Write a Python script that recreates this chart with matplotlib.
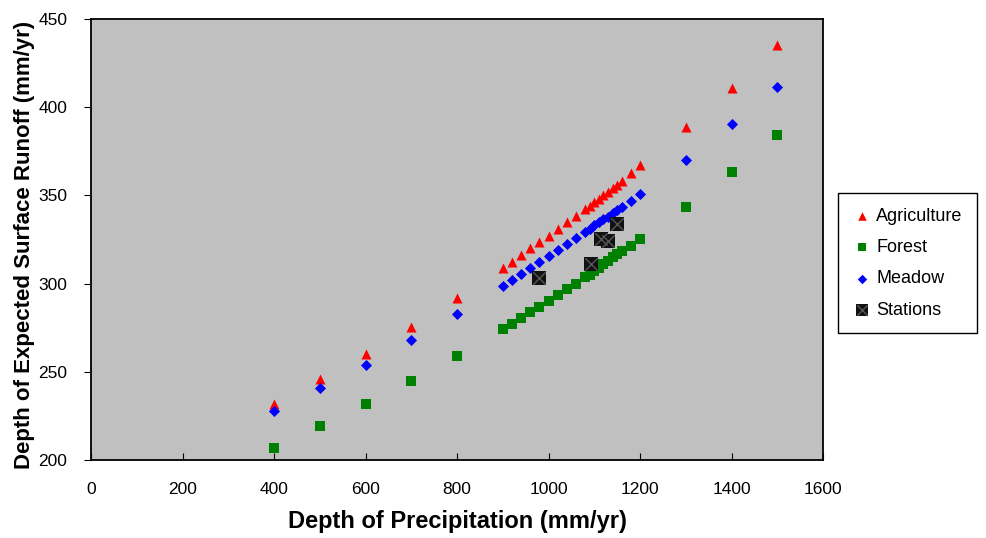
import numpy as np
import matplotlib.pyplot as plt

plt.rcParams['font.family'] = ['Liberation Sans', 'DejaVu Sans']

# precipitation depths (mm/yr)
precip = [400, 500, 600, 700, 800, 900, 920, 940, 960, 980, 1000, 1020, 1040, 1060,
          1080, 1090, 1100, 1110, 1120, 1130, 1140, 1150, 1160, 1180, 1200,
          1300, 1400, 1500]

# expected surface runoff (mm/yr)
agriculture = [232, 246, 260, 275.5, 292, 309, 312.5, 316, 320, 323.5, 327, 331, 335, 338.5,
               342.5, 344, 346, 348, 350, 352, 354, 356, 358, 362.5, 367,
               388.5, 411, 435.5]
forest = [207, 219, 231.5, 245, 259, 274, 277, 280.5, 284, 287, 290, 293.5, 297, 300,
          303.5, 305, 307, 309, 311, 313, 315, 316.5, 318.5, 321.5, 325,
          343.5, 363.5, 384.5]
meadow = [228, 241, 254, 268, 283, 298.5, 302, 305.5, 309, 312, 315.5, 319, 322.5, 326,
          329.5, 331, 333, 335, 336.5, 338, 340, 342, 343.5, 347, 351,
          370, 390.5, 411.5]

# observed stations
station_p = [980, 1092, 1114, 1130, 1150]
station_q = [303, 311, 325, 324, 333.5]

fig = plt.figure(figsize=(9.86, 5.38), dpi=100)
ax = fig.add_axes([0.0923, 0.145, 0.7424, 0.8197])
ax.set_facecolor('#C0C0C0')

ha = ax.scatter(precip, agriculture, marker='^', s=52, color='#FF0000', lw=0, zorder=3)
hf = ax.scatter(precip, forest, marker='s', s=44, color='#008000', lw=0, zorder=3)
hm = ax.scatter(precip, meadow, marker='D', s=32, color='#0000FF', lw=0, zorder=3)
hs1 = ax.scatter(station_p, station_q, marker='s', s=105, color='#111111', lw=0, zorder=4)
hs2 = ax.scatter(station_p, station_q, marker='x', s=80, color='#555555', lw=1.0, zorder=5)

ax.set_xlim(0, 1600)
ax.set_ylim(200, 450)
ax.set_xticks(np.arange(0, 1601, 200))
ax.set_yticks(np.arange(200, 451, 50))
ax.tick_params(axis='x', direction='in', length=5, pad=16, labelsize=12.5)
ax.tick_params(axis='y', direction='out', length=5, pad=12, labelsize=12.5)
for s in ax.spines.values():
    s.set_linewidth(1.3)

ax.set_xlabel('Depth of Precipitation (mm/yr)', fontsize=17, fontweight='bold', labelpad=9)
ax.set_ylabel('Depth of Expected Surface Runoff (mm/yr)', fontsize=16, fontweight='bold')
ax.yaxis.set_label_coords(-0.077, 0.488)

leg = fig.legend([ha, hf, hm, (hs1, hs2)], ['Agriculture', 'Forest', 'Meadow', 'Stations'],
                 loc='upper left', bbox_to_anchor=(0.85, 0.641), fontsize=13,
                 fancybox=False, edgecolor='black', framealpha=1, borderpad=0.8,
                 labelspacing=0.8, handlelength=1.0, handletextpad=0.3, markerscale=0.85,
                 borderaxespad=0)
leg.get_frame().set_linewidth(1.0)

fig.savefig('out.png', dpi=100)
